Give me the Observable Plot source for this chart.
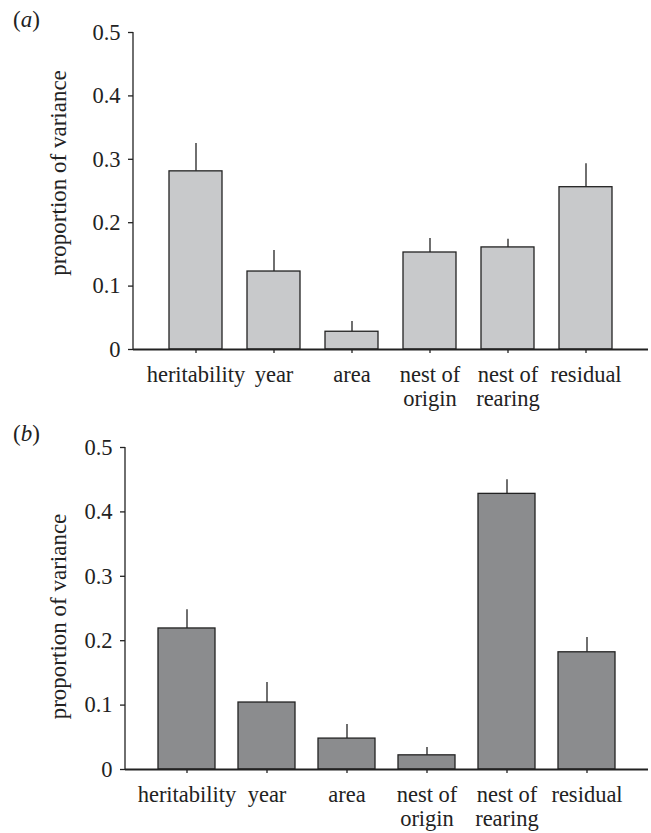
<!DOCTYPE html>
<html>
<head>
<meta charset="utf-8">
<script src="https://cdn.jsdelivr.net/npm/d3@7"></script>
<script src="https://cdn.jsdelivr.net/npm/@observablehq/plot@0.6"></script>
<style>
  html, body { margin: 0; padding: 0; background: #fff; }
  #wrap { position: relative; width: 651px; height: 833px; font-family: "Liberation Serif", serif; }
  .panel { position: absolute; left: 0; }
  .plabel { position: absolute; left: 13px; font-size: 23px; color: #222; font-family: "Liberation Serif", serif; }
  svg { display: block; }
</style>
</head>
<body>
<div id="wrap">
  <div class="panel" id="pa" style="top:0"></div>
  <div class="panel" id="pb" style="top:412px"></div>
  <div class="plabel" style="top:7px">(<i>a</i>)</div>
  <div class="plabel" style="top:421px">(<i>b</i>)</div>
</div>
<script>
const categories = ["heritability", "year", "area", "nest of\norigin", "nest of\nrearing", "residual"];
const valuesA = [0.281, 0.123, 0.028, 0.153, 0.161, 0.256];
const errorsA = [0.044, 0.033, 0.016, 0.022, 0.013, 0.037];
const valuesB = [0.219, 0.104, 0.048, 0.022, 0.428, 0.182];
const errorsB = [0.029, 0.031, 0.022, 0.012, 0.022, 0.023];
const yTicks = [0, 0.1, 0.2, 0.3, 0.4, 0.5];
const yLabel = "proportion of variance";

function yAxisLine() {
  return (index, scales, values, dims) => {
    const g = d3.create("svg:line")
      .attr("x1", dims.marginLeft).attr("x2", dims.marginLeft)
      .attr("y1", scales.y(0)).attr("y2", scales.y(0.5))
      .attr("stroke", "#222").attr("stroke-width", 1.3);
    return g.node();
  };
}

function panel(values, errors, fill, opts) {
  const data = categories.map((c, i) => ({cat: c, v: values[i], hi: values[i] + errors[i]}));
  return Plot.plot({
    width: 651,
    height: opts.height,
    marginTop: opts.marginTop,
    marginBottom: opts.marginBottom,
    marginLeft: opts.marginLeft,
    marginRight: 3,
    style: {fontFamily: "'Liberation Serif', serif", fontSize: "22px", color: "#222", background: "#fff"},
    x: {domain: categories, paddingInner: opts.padInner, paddingOuter: opts.padOuter, label: null},
    y: {domain: [0, 0.5], label: null},
    marks: [
      Plot.ruleX(data, {x: "cat", y1: "v", y2: "hi", stroke: "#222", strokeWidth: 1.3}),
      Plot.barY(data, {x: "cat", y: "v", fill: fill, stroke: "#222", strokeWidth: 1.3}),
      Plot.axisY({ticks: yTicks, tickSize: 5, tickPadding: 8, fontSize: 22.5, tickFormat: d => d === 0 ? "0" : d.toFixed(1),
        label: null, stroke: "#222", strokeWidth: 1.3}),
      Plot.axisX({tickSize: 4, tickPadding: 11, fontSize: 22.5, lineHeight: 1.08, label: null, stroke: "#222", strokeWidth: 1.3}),
      Plot.text([yLabel], {frameAnchor: "left", text: d => d, rotate: -90, fontSize: 23, fill: "#222",
        textAnchor: "middle", lineAnchor: "middle", dx: opts.labelDx, dy: opts.labelDy}),
      yAxisLine(),
      Plot.ruleY([0], {stroke: "#222", strokeWidth: 2.2})
    ]
  });
}

document.getElementById("pa").appendChild(panel(valuesA, errorsA, "#c8c9cb",
  {height: 412, marginTop: 32, marginBottom: 63, marginLeft: 133, padInner: 0.32, padOuter: 0.42, labelDx: -75, labelDy: -18}));
document.getElementById("pb").appendChild(panel(valuesB, errorsB, "#8b8c8e",
  {height: 421, marginTop: 35, marginBottom: 64, marginLeft: 125, padInner: 0.29, padOuter: 0.39, labelDx: -67, labelDy: 8}));
</script>
</body>
</html>
